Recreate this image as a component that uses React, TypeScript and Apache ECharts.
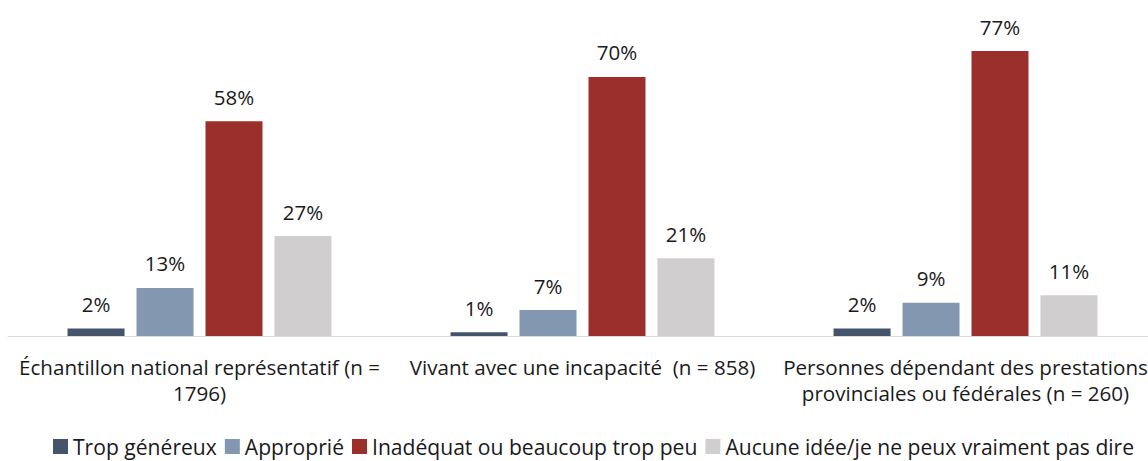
import React, { useEffect, useRef } from "react";
import * as echarts from "echarts";

const categories = [
  "Échantillon national représentatif (n =\n1796)",
  "Vivant avec une incapacité  (n = 858)",
  "Personnes dépendant des prestations\nprovinciales ou fédérales (n = 260)",
];
const seriesNames = [
  "Trop généreux",
  "Approprié",
  "Inadéquat ou beaucoup trop peu",
  "Aucune idée/je ne peux vraiment pas dire",
];
const tropGenereux = [2, 1, 2];
const approprie = [13, 7, 9];
const inadequat = [58, 70, 77];
const aucuneIdee = [27, 21, 11];
const colors = ["#44546a", "#8497b0", "#9a2f2b", "#d0cece"];

export default function App() {
  const ref = useRef<HTMLDivElement>(null);
  useEffect(() => {
    if (!ref.current) return;
    const chart = echarts.init(ref.current, undefined, { renderer: "svg" });
    const font = "'Open Sans', sans-serif";
    const fs = 20.6;
    const values = [tropGenereux, approprie, inadequat, aucuneIdee];
    chart.setOption({
      animation: false,
      textStyle: { fontFamily: font },
      grid: { left: 8, right: 9, top: 51, height: 285, containLabel: false },
      legend: {
        bottom: -1,
        left: 48,
        itemWidth: 15,
        itemHeight: 15,
        itemGap: 8,
        icon: "rect",
        textStyle: { fontSize: 21.1, color: "#1a1a1a", fontFamily: font, padding: [0, 0, 0, 0] },
        data: seriesNames,
      },
      xAxis: {
        type: "category",
        data: categories,
        axisLine: { show: true, lineStyle: { color: "#d9d9d9", width: 1 } },
        axisTick: { show: false },
        axisLabel: {
          fontSize: fs,
          color: "#1a1a1a",
          fontFamily: font,
          lineHeight: 26,
          margin: 18,
          interval: 0,
        },
      },
      yAxis: {
        type: "value",
        min: 0,
        max: 77,
        show: false,
        splitLine: { show: false },
      },
      series: seriesNames.map((name, i) => ({
        name,
        type: "bar",
        data: values[i],
        barWidth: 57,
        barGap: "21%",
        itemStyle: { color: colors[i] },
        label: {
          show: true,
          position: "top",
          distance: 14,
          formatter: "{c}%",
          fontSize: 20.5,
          color: "#1a1a1a",
          fontFamily: font,
        },
      })),
    });
    return () => chart.dispose();
  }, []);
  return (
    <div style={{ position: "fixed", left: 0, top: 0, width: 1148, height: 461, overflow: "hidden", background: "#fff" }}>
      <div ref={ref} style={{ width: 1166, height: 461 }} />
    </div>
  );
}
